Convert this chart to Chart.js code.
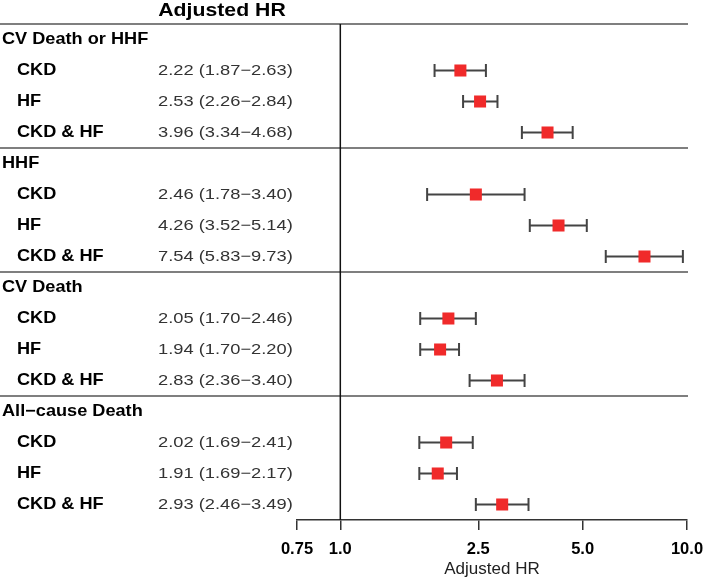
<!DOCTYPE html>
<html>
<head>
<meta charset="utf-8">
<script src="https://cdn.jsdelivr.net/npm/chart.js@4"></script>
<style>
  body { margin: 0; background: #fff; }
</style>
</head>
<body>
<canvas id="forest" width="706" height="582"></canvas>
<script>
// outcomes and subgroups
const groups = ["CV Death or HHF", "HHF", "CV Death", "All\u2212cause Death"];
const subgroups = ["CKD", "HF", "CKD & HF"];

// adjusted HR with 95% CI, 3 subgroups per outcome
const hr = [2.22, 2.53, 3.96, 2.46, 4.26, 7.54, 2.05, 1.94, 2.83, 2.02, 1.91, 2.93];
const lo = [1.87, 2.26, 3.34, 1.78, 3.52, 5.83, 1.70, 1.70, 2.36, 1.69, 1.69, 2.46];
const hi = [2.63, 2.84, 4.68, 3.40, 5.14, 9.73, 2.46, 2.20, 3.40, 2.41, 2.17, 3.49];

const xTicks = [0.75, 1, 2.5, 5, 10];
const xTickLabels = ["0.75", "1.0", "2.5", "5.0", "10.0"];

// row number of each estimate (header rows sit in between)
const rowOf = (i) => Math.floor(i / 3) * 4 + 1 + (i % 3);

const points = hr.map((v, i) => ({ x: v, y: rowOf(i) }));

const FONT = "'Liberation Sans', Arial, Helvetica, sans-serif";

// text a bit wider than tall, like the original picture
function stretchText(ctx, txt, x, y, font, color, sx, align) {
  ctx.save();
  ctx.font = font;
  ctx.fillStyle = color;
  ctx.textBaseline = "middle";
  ctx.textAlign = align || "left";
  ctx.translate(x, y);
  ctx.scale(sx, 1);
  ctx.fillText(txt, 0, 0);
  ctx.restore();
}

const forestPlugin = {
  id: "forest",
  beforeDatasetsDraw(chart) {
    const ctx = chart.ctx;
    const xs = chart.scales.x;
    const ys = chart.scales.y;
    const area = chart.chartArea;

    // separators between outcomes
    ctx.save();
    ctx.strokeStyle = "#555";
    ctx.lineWidth = 1.5;
    for (let g = 0; g < groups.length; g++) {
      const y = ys.getPixelForValue(g * 4 - 0.5);
      ctx.beginPath();
      ctx.moveTo(0, y);
      ctx.lineTo(area.right + 1, y);
      ctx.stroke();
    }

    // reference line at HR = 1
    const x1 = xs.getPixelForValue(1);
    ctx.strokeStyle = "#111";
    ctx.beginPath();
    ctx.moveTo(x1, area.top);
    ctx.lineTo(x1, area.bottom);
    ctx.stroke();

    // confidence intervals
    ctx.strokeStyle = "#444";
    ctx.lineWidth = 2;
    hr.forEach((v, i) => {
      const y = ys.getPixelForValue(rowOf(i));
      const a = xs.getPixelForValue(lo[i]);
      const b = xs.getPixelForValue(hi[i]);
      ctx.beginPath();
      ctx.moveTo(a, y);
      ctx.lineTo(b, y);
      ctx.moveTo(a, y - 6.5);
      ctx.lineTo(a, y + 6.5);
      ctx.moveTo(b, y - 6.5);
      ctx.lineTo(b, y + 6.5);
      ctx.stroke();
    });
    ctx.restore();
  },
  afterDraw(chart) {
    const ctx = chart.ctx;
    const ys = chart.scales.y;

    stretchText(ctx, "Adjusted HR", 222, 11, "bold 18px " + FONT, "#000", 1.18, "center");

    groups.forEach((g, k) => {
      stretchText(ctx, g, 2, ys.getPixelForValue(k * 4), "bold 16.5px " + FONT, "#000", 1.1);
    });
    hr.forEach((v, i) => {
      const y = ys.getPixelForValue(rowOf(i));
      stretchText(ctx, subgroups[i % 3], 17, y, "bold 16.5px " + FONT, "#000", 1.1);
      const txt = v.toFixed(2) + " (" + lo[i].toFixed(2) + "\u2212" + hi[i].toFixed(2) + ")";
      stretchText(ctx, txt, 158, y, "15px " + FONT, "#333", 1.22);
    });
  }
};

new Chart(document.getElementById("forest"), {
  type: "scatter",
  data: {
    datasets: [
      {
        label: "Adjusted HR",
        data: points,
        pointStyle: "rect",
        pointRadius: 8.5,
        pointHoverRadius: 8.5,
        backgroundColor: "#f02a2a",
        borderWidth: 0,
      },
    ],
  },
  options: {
    responsive: false,
    animation: false,
    layout: {
      padding: { left: 297, right: 19, top: 24, bottom: 0 },
    },
    plugins: {
      legend: { display: false },
      tooltip: { enabled: false },
    },
    scales: {
      x: {
        type: "logarithmic",
        min: 0.75,
        max: 10,
        afterBuildTicks(scale) {
          scale.ticks = xTicks.map((v) => ({ value: v }));
        },
        afterFit(scale) {
          scale.height = 62;
          scale.paddingLeft = 0;
          scale.paddingRight = 0;
        },
        ticks: {
          autoSkip: false,
          maxRotation: 0,
          padding: 10,
          color: "#000",
          font: { family: FONT, size: 16.5, weight: "bold" },
          callback: (v, i) => xTickLabels[i],
        },
        grid: {
          drawOnChartArea: false,
          drawTicks: true,
          tickLength: 10,
          color: "#333",
          lineWidth: 1.5,
        },
        border: { display: true, color: "#333", width: 1.5 },
        title: {
          display: true,
          text: "Adjusted HR",
          color: "#222",
          font: { family: FONT, size: 17 },
          padding: { top: 0, bottom: 2 },
        },
      },
      y: {
        type: "linear",
        display: false,
        reverse: true,
        min: -0.5,
        max: 15.5,
      },
    },
  },
  plugins: [forestPlugin],
});
</script>
</body>
</html>
